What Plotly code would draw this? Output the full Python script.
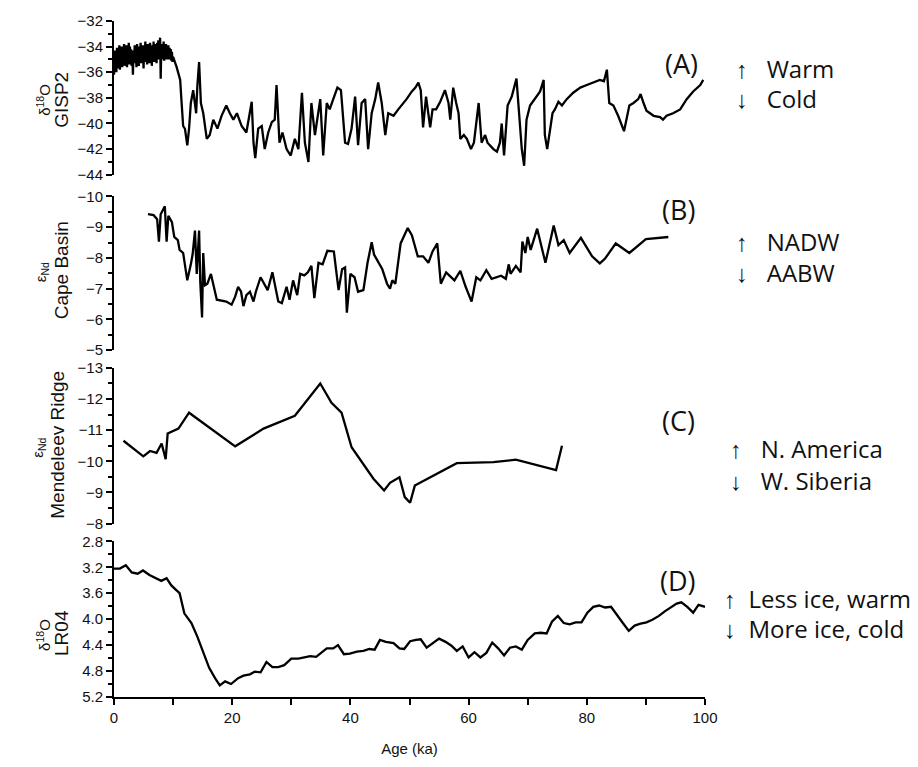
import plotly.graph_objects as go

# ---------------- data ----------------
holo_age = [0.0, 0.1, 0.2, 0.3, 0.4, 0.5, 0.6, 0.7, 0.8, 0.9, 1.0, 1.1, 1.2, 1.3, 1.4, 1.5, 1.6, 1.7, 1.8, 1.9,
            2.0, 2.1, 2.2, 2.3, 2.4, 2.5, 2.6, 2.7, 2.8, 2.9, 3.0, 3.1, 3.2, 3.3, 3.4, 3.5, 3.6, 3.7, 3.8, 3.9,
            4.0, 4.1, 4.2, 4.3, 4.4, 4.5, 4.6, 4.7, 4.8, 4.9, 5.0, 5.1, 5.2, 5.3, 5.4, 5.5, 5.6, 5.7, 5.8, 5.9,
            6.0, 6.1, 6.2, 6.3, 6.4, 6.5, 6.6, 6.7, 6.8, 6.9, 7.0, 7.1, 7.2, 7.3, 7.4, 7.5, 7.6, 7.7, 7.8, 7.9,
            8.0, 8.1, 8.2, 8.3, 8.4, 8.5, 8.6, 8.7, 8.8, 8.9, 9.0, 9.1, 9.2, 9.3, 9.4, 9.5, 9.6, 9.7, 9.8, 9.9,
            10.0]
holo_d18o = [-36.2, -34.3, -35.9, -34.6, -36.0, -34.1, -35.7, -34.4, -35.4, -33.9,
             -35.8, -34.2, -35.3, -34.0, -35.6, -34.5, -35.1, -33.8, -35.5, -34.1,
             -35.2, -33.9, -35.6, -34.3, -35.0, -33.7, -35.4, -34.0, -35.1, -34.2,
             -35.5, -34.4, -36.2, -34.3, -35.3, -33.9, -35.0, -34.1, -35.6, -33.8,
             -35.2, -34.0, -35.5, -34.2, -34.9, -33.7, -35.3, -34.0, -35.0, -33.9,
             -35.7, -34.1, -35.2, -33.6, -35.0, -34.2, -35.4, -33.8, -34.9, -34.0,
             -35.3, -33.7, -35.1, -33.9, -35.5, -34.0, -34.8, -33.6, -35.2, -33.8,
             -34.9, -33.9, -35.3, -33.7, -34.8, -33.5, -35.0, -33.9, -33.3, -36.5,
             -34.2, -35.0, -33.8, -34.9, -33.6, -35.1, -33.9, -34.7, -33.8, -35.0,
             -34.0, -34.8, -33.9, -35.0, -34.1, -34.9, -34.2, -35.1, -34.4, -35.2,
             -34.8]
glacial_age = [10.6, 11.2, 11.4, 11.7, 12.0, 12.4, 12.7, 13.0, 13.4, 13.9, 14.1, 14.4, 14.7, 15.1, 15.7, 16.2, 16.8,
               17.5, 18.2, 19.0, 19.6, 20.2, 20.8, 21.6, 22.4, 23.3, 23.6, 23.9, 24.4, 25.0, 25.5, 26.1, 26.7, 27.2,
               27.5, 28.0, 28.5, 29.2, 29.9, 30.6, 31.2, 31.8, 32.3, 32.9, 33.4, 34.0, 34.9, 35.4, 36.0, 36.5, 37.1,
               37.8, 38.4, 39.1, 39.6, 40.2, 40.8, 41.3, 41.9, 42.5, 43.0, 43.6, 44.2, 44.7, 45.3, 45.9, 46.4, 47.3,
               48.1, 49.0, 49.5, 50.4, 51.0, 51.5, 51.9, 52.3, 52.8, 53.5, 53.9, 54.5, 55.2, 56.0, 56.6, 56.9, 57.4,
               57.9, 58.3, 58.6, 59.2, 59.7, 60.4, 60.9, 61.7, 62.2, 62.8, 63.2, 64.2, 64.8, 65.3, 65.6, 66.0, 66.6,
               67.3, 68.1, 68.6, 69.0, 69.4, 69.8, 70.4, 71.2, 72.1, 72.7, 72.9, 73.3, 73.8, 74.2, 74.6, 75.2, 75.8,
               76.6, 77.7, 78.9, 80.0, 81.1, 82.2, 82.9, 83.4, 83.8, 84.5, 85.3, 86.3, 87.2, 87.9, 88.7, 89.1, 89.6,
               90.1, 91.3, 92.4, 92.9, 93.5, 94.6, 95.8, 96.9, 98.0, 99.2, 99.7]
glacial_d18o = [-35.6, -36.6, -38.1, -40.2, -40.4, -41.7, -40.4, -38.4, -37.4, -39.2, -37.1, -35.2, -38.4, -39.2, -41.2,
                -40.9, -39.7, -40.4, -39.4, -38.6, -39.2, -39.7, -39.2, -40.2, -40.7, -38.3, -41.5, -42.7, -40.4, -40.2,
                -42.0, -40.7, -39.9, -39.7, -37.0, -41.5, -40.7, -42.0, -42.5, -41.2, -42.0, -37.6, -41.5, -43.0, -38.4,
                -40.9, -38.1, -42.5, -38.4, -38.9, -38.1, -37.2, -37.4, -41.5, -41.6, -40.4, -37.9, -41.7, -38.4, -38.1,
                -42.0, -39.2, -38.1, -36.8, -38.4, -40.9, -39.2, -39.4, -38.9, -38.4, -38.1, -37.5, -37.2, -36.8, -37.4,
                -40.3, -37.9, -40.3, -38.9, -38.9, -38.3, -37.4, -38.4, -39.7, -37.2, -38.4, -39.2, -41.2, -40.9, -41.2,
                -42.0, -41.5, -38.4, -41.5, -40.9, -41.5, -42.0, -42.2, -41.5, -40.0, -42.5, -38.6, -37.9, -36.5, -39.9,
                -42.0, -43.3, -39.7, -38.6, -38.1, -37.5, -36.6, -40.9, -42.0, -40.4, -39.2, -38.9, -38.3, -38.6, -38.1,
                -37.6, -37.2, -37.0, -36.8, -36.6, -36.7, -35.8, -38.4, -38.6, -39.4, -40.6, -38.6, -38.4, -38.1, -37.7,
                -38.4, -39.0, -39.4, -39.5, -39.7, -39.4, -39.2, -38.9, -38.1, -37.5, -37.0, -36.6]
gisp2_age = holo_age + glacial_age
gisp2_d18o = holo_d18o + glacial_d18o

cape_age = [5.75, 6.7, 7.3, 7.6, 7.9, 8.6, 8.9, 9.2, 9.8, 10.2, 10.8, 11.1, 11.7, 12.4, 13.0, 13.3, 13.7, 14.0, 14.4,
            14.6, 14.9, 15.1, 15.4, 15.8, 16.4, 17.4, 19.0, 19.9, 20.5, 21.0, 21.5, 21.9, 22.4, 23.0, 23.6, 24.0,
            24.8, 25.3, 26.0, 26.8, 27.8, 28.4, 29.2, 29.7, 30.3, 31.0, 31.5, 32.2, 32.8, 33.4, 33.9, 34.6, 35.3,
            36.1, 37.2, 38.0, 38.6, 39.1, 39.4, 40.0, 40.7, 41.3, 42.2, 42.9, 43.6, 44.0, 44.8, 45.4, 46.2, 46.7,
            47.1, 47.6, 48.5, 49.7, 50.4, 51.4, 52.3, 53.2, 53.9, 54.7, 55.3, 56.2, 57.6, 58.6, 59.5, 60.5, 61.3,
            62.0, 63.0, 63.9, 65.5, 66.3, 66.8, 67.1, 68.0, 68.8, 69.1, 69.6, 70.0, 70.5, 71.6, 73.0, 74.4, 75.2,
            76.1, 77.1, 79.0, 80.9, 82.2, 83.1, 84.9, 87.2, 90.0, 93.8]
cape_end = [-9.42, -9.39, -9.26, -8.53, -9.42, -9.68, -8.53, -9.37, -9.16, -8.68, -8.58, -8.26, -8.16, -7.27, -7.79,
            -8.11, -8.89, -7.48, -8.89, -7.21, -6.06, -8.16, -7.11, -7.16, -7.48, -6.64, -6.58, -6.48, -6.74, -7.06,
            -6.90, -6.43, -6.79, -6.90, -6.58, -6.90, -7.37, -7.21, -6.95, -7.53, -6.58, -6.53, -7.06, -6.64, -7.27,
            -6.79, -7.48, -7.43, -7.53, -7.74, -6.69, -7.84, -7.79, -8.23, -8.21, -6.95, -7.63, -7.69, -6.22, -7.48,
            -7.37, -6.90, -6.95, -7.84, -8.51, -8.11, -7.84, -7.63, -7.16, -7.00, -7.27, -7.16, -8.47, -8.97, -8.74,
            -8.05, -8.05, -7.84, -8.21, -8.47, -7.16, -7.53, -7.27, -7.58, -7.06, -6.58, -7.37, -7.27, -7.60, -7.32,
            -7.42, -7.32, -7.79, -7.48, -7.74, -7.53, -8.53, -8.16, -8.68, -8.26, -8.95, -7.84, -9.05, -8.42, -8.58,
            -8.16, -8.65, -8.05, -7.82, -7.98, -8.47, -8.16, -8.61, -8.68]

mend_age = [1.6, 4.96, 6.1, 7.2, 8.06, 8.74, 9.08, 10.9, 12.7, 20.5, 25.3, 30.6, 34.9, 36.8, 38.5, 40.2, 43.9, 45.7,
            46.7, 48.3, 49.2, 50.1, 50.9, 58.0, 64.2, 68.0, 74.8, 75.3, 75.8]
mend_end = [-10.66, -10.16, -10.33, -10.27, -10.57, -10.07, -10.89, -11.05, -11.56, -10.48, -11.05, -11.46, -12.50,
            -11.88, -11.56, -10.45, -9.44, -9.06, -9.31, -9.49, -8.85, -8.67, -9.22, -9.94, -9.97, -10.05, -9.72,
            -10.1, -10.5]

lr04_age = [0, 1.0, 2.0, 3.0, 4.0, 4.9, 6.0, 7.0, 8.0, 8.9, 9.7, 10.4, 11.1, 11.9, 13.1, 14.1, 15.1, 16.1, 17.1,
            17.9, 18.8, 19.8, 21.0, 21.9, 23.0, 23.8, 24.8, 25.8, 26.8, 27.8, 28.8, 30.0, 31.2, 32.2, 33.2, 34.2,
            35.1, 36.0, 37.1, 37.9, 38.9, 39.9, 41.1, 42.2, 43.2, 44.1, 45.0, 46.0, 47.3, 48.3, 49.1, 50.1, 51.1,
            51.9, 52.9, 54.0, 55.0, 56.1, 57.1, 58.0, 59.0, 60.0, 61.0, 62.0, 63.0, 64.0, 65.0, 66.0, 67.0, 68.0,
            69.0, 70.0, 71.2, 72.2, 73.2, 74.1, 75.1, 76.1, 77.1, 78.1, 79.1, 80.1, 81.1, 82.1, 83.1, 84.1, 85.1,
            86.1, 87.1, 88.1, 89.1, 90.1, 91.1, 92.2, 93.2, 94.2, 95.2, 96.0, 97.0, 98.0, 98.9, 100.0]
lr04_d18o = [3.22, 3.22, 3.17, 3.28, 3.30, 3.25, 3.32, 3.36, 3.41, 3.37, 3.48, 3.54, 3.60, 3.91, 4.06, 4.27, 4.50,
             4.75, 4.91, 5.02, 4.96, 5.00, 4.91, 4.87, 4.85, 4.81, 4.82, 4.66, 4.74, 4.74, 4.71, 4.61, 4.61, 4.59,
             4.57, 4.58, 4.52, 4.45, 4.45, 4.40, 4.54, 4.53, 4.50, 4.49, 4.46, 4.47, 4.32, 4.35, 4.37, 4.45, 4.46,
             4.34, 4.32, 4.31, 4.44, 4.37, 4.30, 4.35, 4.41, 4.49, 4.42, 4.59, 4.51, 4.59, 4.52, 4.36, 4.45, 4.56,
             4.44, 4.42, 4.47, 4.32, 4.22, 4.21, 4.22, 4.04, 3.95, 4.06, 4.08, 4.05, 4.05, 3.90, 3.81, 3.79, 3.82,
             3.81, 3.94, 4.06, 4.18, 4.10, 4.07, 4.05, 4.01, 3.95, 3.88, 3.82, 3.76, 3.74, 3.81, 3.90, 3.78, 3.81]

# ---------------- layout helpers ----------------
W, H = 918, 767
L, R, T, B = 114, 705, 17, 703


def fx(px):
    return (px - L) / (R - L)


def fy(py):
    return (B - py) / (B - T)


line = dict(color="black", width=2.3)
tickfont = dict(family="Liberation Sans, Arial, sans-serif", size=15, color="#111")

fig = go.Figure()
fig.add_trace(go.Scatter(x=gisp2_age, y=gisp2_d18o, yaxis="y4", mode="lines", line=line))
fig.add_trace(go.Scatter(x=cape_age, y=cape_end, yaxis="y3", mode="lines", line=line))
fig.add_trace(go.Scatter(x=mend_age, y=mend_end, yaxis="y2", mode="lines", line=line))
fig.add_trace(go.Scatter(x=lr04_age, y=lr04_d18o, yaxis="y", mode="lines", line=line))


def yax(domain, rng, dtick, mdtick, fmt=None):
    d = dict(domain=domain, range=rng, dtick=dtick, tick0=0, anchor="x",
             showline=True, linecolor="black", linewidth=2, ticks="outside", ticklen=6,
             tickwidth=2, tickcolor="black", showgrid=False, zeroline=False, tickfont=tickfont,
             minor=dict(dtick=mdtick, ticks="outside", ticklen=4, tickwidth=1.5, tickcolor="black",
                        showgrid=False))
    if fmt:
        d["tickformat"] = fmt
    return d


fig.update_layout(
    width=W, height=H,
    margin=dict(l=L, r=W - R, t=T, b=H - B),
    paper_bgcolor="white", plot_bgcolor="white",
    showlegend=False,
    xaxis=dict(range=[0, 100], anchor="y", domain=[0, 1], showline=True, linecolor="black",
               linewidth=2, ticks="outside", ticklen=6, tickwidth=2, tickcolor="black", dtick=20,
               showgrid=False, zeroline=False, tickfont=tickfont,
               minor=dict(dtick=10, ticks="outside", ticklen=6, tickwidth=2, tickcolor="black"),
               title=dict(text="Age (ka)", font=dict(family="Liberation Sans, Arial, sans-serif",
                                                       size=15, color="#111"), standoff=18)),
    yaxis=yax([0, fy(545)], [5.2, 2.8], 0.4, 0.2, ".1f"),
    yaxis2=yax([fy(527), fy(369)], [-8, -13], 1, 0.5),
    yaxis3=yax([fy(351), fy(195)], [-5, -10], 1, 0.5),
    yaxis4=yax([fy(173), 1], [-44, -32], 2, 1),
)

# y-axis titles (two lines each)
small = dict(family="Liberation Sans, Arial, sans-serif", size=15, color="#111")
big = dict(family="Liberation Sans, Arial, sans-serif", size=19, color="#111")
titles = [
    (44, 97, "δ<sup>18</sup>O", small), (62, 97, "GISP2", big),
    (41, 272, "ε<sub>Nd</sub>", small), (61, 270, "Cape Basin", big),
    (39, 450, "ε<sub>Nd</sub>", small), (58, 447, "Mendeleev Ridge", big),
    (44, 640, "δ<sup>18</sup>O", small), (62, 638, "LR04", big),
]
for px, py, txt, f in titles:
    fig.add_annotation(x=fx(px), y=fy(py), xref="paper", yref="paper", text=txt, font=f,
                       textangle=-90, showarrow=False, xanchor="center", yanchor="middle")

# panel letters and interpretation labels
lab = dict(family="Open Sans, Noto Sans, sans-serif", size=27, color="#111")
txt_font = dict(family="Open Sans, Noto Sans, sans-serif", size=24, color="#111")
letters = [(681, 60, "(A)"), (678, 208, "(B)"), (678, 422, "(C)"), (678, 585, "(D)")]
for px, py, t in letters:
    fig.add_annotation(x=fx(px), y=fy(py), xref="paper", yref="paper", text=t, font=lab,
                       showarrow=False, xanchor="center", yanchor="middle")

side = [
    (734, 65, "↑\u00a0\u00a0 Warm"), (734, 96, "↓\u00a0\u00a0 Cold"),
    (734, 241, "↑\u00a0\u00a0 NADW"), (734, 272, "↓\u00a0\u00a0 AABW"),
    (728, 451, "↑\u00a0\u00a0 N. America"), (728, 483, "↓\u00a0\u00a0 W. Siberia"),
    (722, 603, "↑\u00a0 Less ice, warm"), (722, 633, "↓\u00a0 More ice, cold"),
]
for px, py, t in side:
    fig.add_annotation(x=fx(px), y=fy(py), xref="paper", yref="paper", text=t, font=txt_font,
                       showarrow=False, xanchor="left", yanchor="middle")

fig.write_html("out.html", config={"displayModeBar": False},
               post_script="document.body.style.margin='0px';")
